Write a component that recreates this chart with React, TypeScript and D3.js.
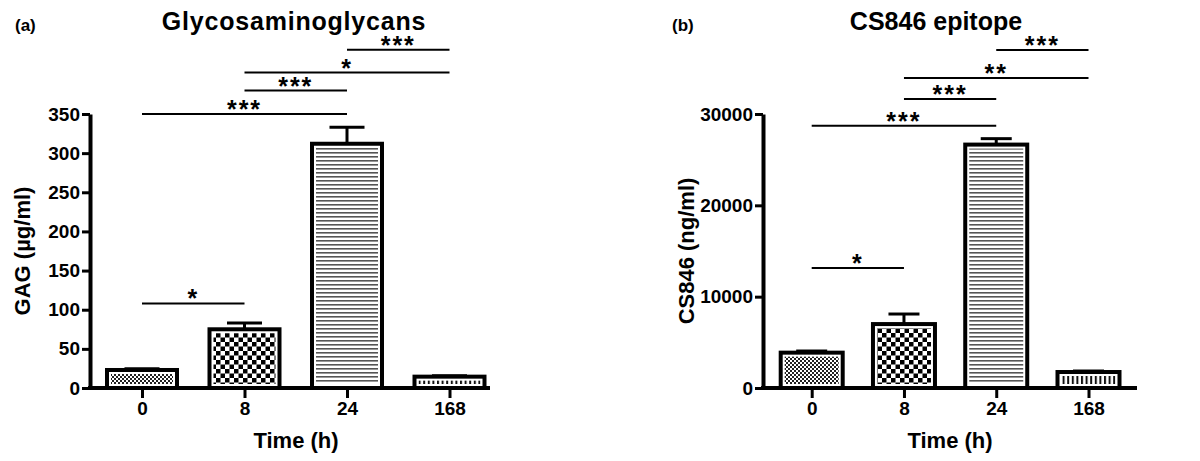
import React, { useEffect, useRef } from 'react';
import * as d3 from 'd3';

// categories (time points)
const timeLabels = ['0', '8', '24', '168'];

// panel (a) glycosaminoglycans, µg/ml
const gagMeans = [23, 75, 312, 14.5];
const gagErrors = [1.5, 8, 21, 1];
const gagTicks = [0, 50, 100, 150, 200, 250, 300, 350];

// panel (b) CS846 epitope, ng/ml
const csMeans = [3870, 7000, 26650, 1750];
const csErrors = [180, 1100, 650, 110];
const csTicks = [0, 10000, 20000, 30000];

// significance brackets: [from index, to index, height in data units, label]
const gagSig: [number, number, number, string][] = [
  [0, 1, 108, '*'],
  [0, 2, 350, '***'],
  [1, 2, 380, '***'],
  [1, 3, 403, '*'],
  [2, 3, 432, '***'],
];
const csSig: [number, number, number, string][] = [
  [0, 1, 13150, '*'],
  [0, 2, 28700, '***'],
  [1, 2, 31650, '***'],
  [1, 3, 33950, '**'],
  [2, 3, 37000, '***'],
];

const patterns = ['fineCheck', 'check', 'hLines', 'vLines'];
const FONT = '"Liberation Sans", Arial, Helvetica, sans-serif';

interface PanelCfg {
  tag: string;
  tagX: number;
  title: string;
  titleX: number;
  titleSpacing: number;
  yLabel: string;
  yLabelX: number;
  xLabelX: number;
  axisX: number;
  axisEnd: number;
  firstX: number;
  lastX: number;
  barWidth: number;
  yMax: number;
  means: number[];
  errors: number[];
  ticks: number[];
  sig: [number, number, number, string][];
}

function drawPanel(svg: d3.Selection<SVGSVGElement, unknown, null, undefined>, cfg: PanelCfg) {
  const top = 114;
  const bottom = 388;
  const g = svg.append('g');

  const x = d3.scalePoint<string>().domain(timeLabels).range([cfg.firstX, cfg.lastX]);
  const y = d3.scaleLinear().domain([0, cfg.yMax]).range([bottom, top]);
  const bw = cfg.barWidth;

  // error bars
  cfg.means.forEach((m, i) => {
    const cx = x(timeLabels[i])!;
    g.append('line')
      .attr('x1', cx).attr('x2', cx)
      .attr('y1', y(m)).attr('y2', y(m + cfg.errors[i]))
      .attr('stroke', '#000').attr('stroke-width', 3);
    g.append('line')
      .attr('x1', cx - bw / 4).attr('x2', cx + bw / 4)
      .attr('y1', y(m + cfg.errors[i])).attr('y2', y(m + cfg.errors[i]))
      .attr('stroke', '#000').attr('stroke-width', 3);
  });

  // bars: white box with thick outline, pattern inset
  cfg.means.forEach((m, i) => {
    const cx = x(timeLabels[i])!;
    g.append('rect')
      .attr('x', cx - bw / 2).attr('y', y(m))
      .attr('width', bw).attr('height', y(0) - y(m))
      .attr('fill', '#fff').attr('stroke', '#000').attr('stroke-width', 4);
    const inset = 4;
    const h = y(0) - y(m) - inset * 2;
    if (h > 0) {
      g.append('rect')
        .attr('x', cx - bw / 2 + inset).attr('y', y(m) + inset)
        .attr('width', bw - inset * 2).attr('height', h)
        .attr('fill', `url(#${patterns[i]})`);
    }
  });

  // y axis
  const ya = g.append('g')
    .attr('transform', `translate(${cfg.axisX},0)`)
    .call(d3.axisLeft(y).tickValues(cfg.ticks).tickSize(8).tickSizeOuter(0).tickPadding(2).tickFormat(d3.format('d')));
  ya.select('.domain').attr('stroke-width', 4);
  ya.selectAll('.tick line').attr('stroke-width', 3);
  ya.selectAll('.tick text')
    .attr('font-family', FONT).attr('font-weight', 'bold').attr('font-size', 19).attr('fill', '#000');

  // x axis
  g.append('line')
    .attr('x1', cfg.axisX - 2).attr('x2', cfg.axisEnd)
    .attr('y1', bottom).attr('y2', bottom)
    .attr('stroke', '#000').attr('stroke-width', 4);
  const xa = g.append('g')
    .attr('transform', `translate(0,${bottom + 1})`)
    .call(d3.axisBottom(x).tickSize(9).tickSizeOuter(0).tickPadding(4));
  xa.select('.domain').remove();
  xa.selectAll('.tick line').attr('stroke-width', 3);
  xa.selectAll('.tick text')
    .attr('font-family', FONT).attr('font-weight', 'bold').attr('font-size', 19).attr('fill', '#000');

  // significance brackets
  cfg.sig.forEach(([a, b, level, label]) => {
    const x1 = x(timeLabels[a])!;
    const x2 = x(timeLabels[b])!;
    g.append('line')
      .attr('x1', x1).attr('x2', x2)
      .attr('y1', y(level)).attr('y2', y(level))
      .attr('stroke', '#000').attr('stroke-width', 2);
    g.append('text')
      .attr('x', (x1 + x2) / 2).attr('y', y(level) + 4)
      .attr('text-anchor', 'middle')
      .attr('font-family', FONT).attr('font-weight', 'bold').attr('font-size', 25)
      .attr('letter-spacing', 2)
      .text(label);
  });

  // texts
  g.append('text')
    .attr('x', cfg.tagX).attr('y', 31)
    .attr('font-family', FONT).attr('font-weight', 'bold').attr('font-size', 17)
    .text(cfg.tag);
  g.append('text')
    .attr('x', cfg.titleX).attr('y', 30)
    .attr('text-anchor', 'middle')
    .attr('font-family', FONT).attr('font-weight', 'bold').attr('font-size', 25)
    .attr('letter-spacing', cfg.titleSpacing)
    .text(cfg.title);
  g.append('text')
    .attr('transform', `translate(${cfg.yLabelX},251) rotate(-90)`)
    .attr('text-anchor', 'middle').attr('dy', '0.35em')
    .attr('font-family', FONT).attr('font-weight', 'bold').attr('font-size', 22)
    .text(cfg.yLabel);
  g.append('text')
    .attr('x', cfg.xLabelX).attr('y', 448)
    .attr('text-anchor', 'middle')
    .attr('font-family', FONT).attr('font-weight', 'bold').attr('font-size', 22)
    .text('Time (h)');
}

const App: React.FC = () => {
  const svgRef = useRef<SVGSVGElement | null>(null);

  useEffect(() => {
    if (!svgRef.current) return;
    const svg = d3.select(svgRef.current);
    svg.selectAll('*').remove();

    const defs = svg.append('defs');
    // fine checker
    const p0 = defs.append('pattern').attr('id', 'fineCheck')
      .attr('patternUnits', 'userSpaceOnUse').attr('width', 4).attr('height', 4);
    p0.append('rect').attr('width', 4).attr('height', 4).attr('fill', '#fff');
    p0.append('rect').attr('width', 2).attr('height', 2).attr('fill', '#222');
    p0.append('rect').attr('x', 2).attr('y', 2).attr('width', 2).attr('height', 2).attr('fill', '#222');
    // coarse checker
    const p1 = defs.append('pattern').attr('id', 'check')
      .attr('patternUnits', 'userSpaceOnUse').attr('width', 9).attr('height', 9);
    p1.append('rect').attr('width', 9).attr('height', 9).attr('fill', '#fff');
    p1.append('rect').attr('width', 4.5).attr('height', 4.5).attr('fill', '#000');
    p1.append('rect').attr('x', 4.5).attr('y', 4.5).attr('width', 4.5).attr('height', 4.5).attr('fill', '#000');
    // horizontal lines
    const p2 = defs.append('pattern').attr('id', 'hLines')
      .attr('patternUnits', 'userSpaceOnUse').attr('width', 4).attr('height', 4);
    p2.append('rect').attr('width', 4).attr('height', 4).attr('fill', '#fff');
    p2.append('rect').attr('width', 4).attr('height', 1.6).attr('fill', '#555');
    // vertical lines
    const p3 = defs.append('pattern').attr('id', 'vLines')
      .attr('patternUnits', 'userSpaceOnUse').attr('width', 4.6).attr('height', 4);
    p3.append('rect').attr('width', 4.6).attr('height', 4).attr('fill', '#fff');
    p3.append('rect').attr('width', 2).attr('height', 4).attr('fill', '#111');

    drawPanel(svg, {
      tag: '(a)', tagX: 15,
      title: 'Glycosaminoglycans', titleX: 294, titleSpacing: 0.8,
      yLabel: 'GAG (µg/ml)', yLabelX: 22,
      xLabelX: 296,
      axisX: 90, axisEnd: 490,
      firstX: 142, lastX: 449.5, barWidth: 70,
      yMax: 350,
      means: gagMeans, errors: gagErrors, ticks: gagTicks, sig: gagSig,
    });
    drawPanel(svg, {
      tag: '(b)', tagX: 672,
      title: 'CS846 epitope', titleX: 936, titleSpacing: 0,
      yLabel: 'CS846 (ng/ml)', yLabelX: 686,
      xLabelX: 950,
      axisX: 763, axisEnd: 1137,
      firstX: 811.7, lastX: 1088.5, barWidth: 62,
      yMax: 30000,
      means: csMeans, errors: csErrors, ticks: csTicks, sig: csSig,
    });
  }, []);

  return (
    <svg
      ref={svgRef}
      width={1200}
      height={461}
      style={{ position: 'absolute', left: 0, top: 0, background: '#fff' }}
    />
  );
};

export default App;
